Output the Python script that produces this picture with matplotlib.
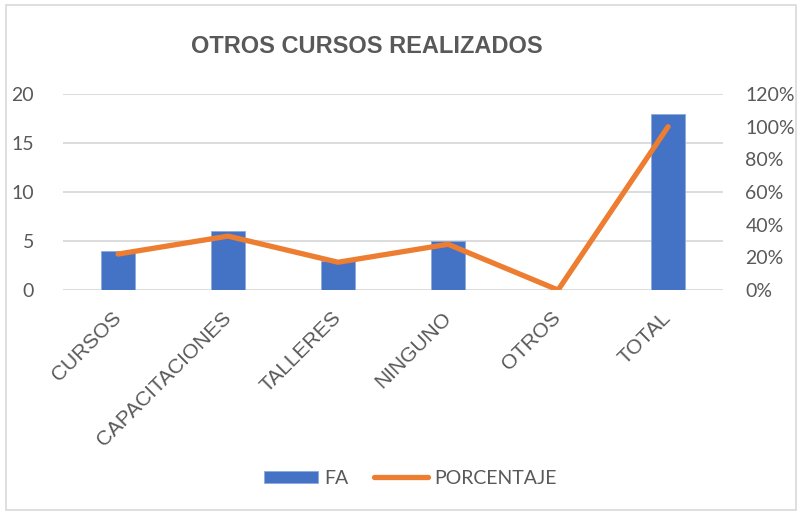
import numpy as np
import matplotlib.pyplot as plt
from matplotlib.patches import Rectangle
from matplotlib.ticker import PercentFormatter

categorias = ["CURSOS", "CAPACITACIONES", "TALLERES", "NINGUNO", "OTROS", "TOTAL"]
fa = [4, 6, 3, 5, 0, 18]
porcentaje = [22, 33, 17, 28, 0, 100]

gris = "#595959"
plt.rcParams['font.family'] = ['Lato', 'DejaVu Sans']

fig = plt.figure(figsize=(8.01, 5.13), dpi=100)
fig.patches.append(Rectangle((0.008, 0.006), 0.986, 0.985, transform=fig.transFigure,
                             fill=False, edgecolor="#d9d9d9", linewidth=1.2))
ax = fig.add_axes([0.0787, 0.4347, 0.824, 0.382])
x = np.arange(len(categorias))

ax.bar(x, fa, width=0.31, color="#4472C4", edgecolor="#8faadc", linewidth=0.6,
       label="FA", zorder=2)
ax.set_ylim(0, 20)
ax.set_yticks([0, 5, 10, 15, 20])
ax.set_xlim(-0.5, len(categorias) - 0.5)
ax.grid(axis="y", color="#d9d9d9", linewidth=1.3, zorder=0)
ax.set_axisbelow(True)

ax2 = ax.twinx()
ax2.plot(x, porcentaje, color="#ED7D31", linewidth=3.8, solid_capstyle="round",
         label="PORCENTAJE", zorder=3)
ax2.set_ylim(0, 120)
ax2.set_yticks(range(0, 121, 20))
ax2.yaxis.set_major_formatter(PercentFormatter(decimals=0))

for a in (ax, ax2):
    for s in a.spines.values():
        s.set_visible(False)
    a.tick_params(length=0, labelsize=14, colors=gris)
ax.tick_params(axis="y", pad=21)
ax2.tick_params(axis="y", pad=16)

ax.set_xticks(x)
ax.set_xticklabels(categorias, rotation=45, ha="right", va="center",
                   rotation_mode="anchor", fontsize=15, color=gris,
                   family="Liberation Sans")
ax.tick_params(axis="x", pad=18)

fig.text(0.458, 0.910, "OTROS CURSOS REALIZADOS", ha="center", va="center",
         fontsize=17, fontweight="bold", color=gris, family="Liberation Sans")

h1, l1 = ax.get_legend_handles_labels()
h2, l2 = ax2.get_legend_handles_labels()
fig.legend(h1 + h2, l1 + l2, loc="center", bbox_to_anchor=(0.512, 0.068), ncol=2,
           frameon=False, fontsize=14, labelcolor=gris, handlelength=2.8,
           handleheight=0.55, columnspacing=1.3, handletextpad=0.3)

fig.savefig("out.png", dpi=100)
